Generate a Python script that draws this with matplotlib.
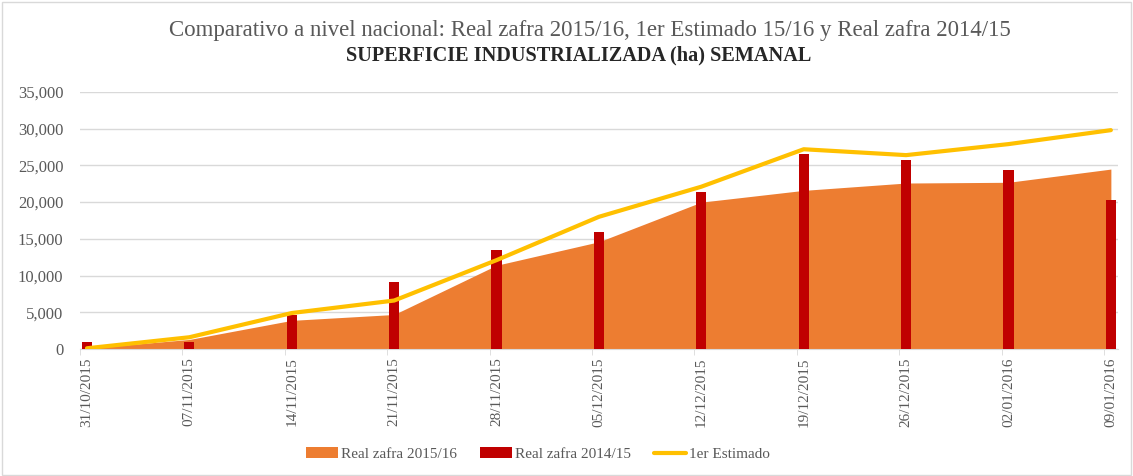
import matplotlib
matplotlib.use('Agg')
import matplotlib.pyplot as plt
import matplotlib.ticker as ticker
from matplotlib.patches import Rectangle
import numpy as np

#%% datos
fechas = ['31/10/2015', '07/11/2015', '14/11/2015', '21/11/2015', '28/11/2015',
          '05/12/2015', '12/12/2015', '19/12/2015', '26/12/2015', '02/01/2016',
          '09/01/2016']
real_1516 = [100, 1300, 3900, 4700, 11400, 14600, 20000, 21600, 22600, 22700, 24500]
real_1415 = [1000, 900, 4600, 9100, 13500, 15900, 21400, 26600, 25700, 24400, 20300]
estimado = [100, 1600, 4900, 6600, 12100, 18000, 22100, 27200, 26400, 27900, 29800]

#%%
plt.rcParams['font.family'] = ['Liberation Serif', 'DejaVu Serif']
gris = '#595959'

fig = plt.figure(figsize=(11.33, 4.76), dpi=100)
ax = fig.add_axes([0.0706, 0.2668, 0.9162, 0.54])

x = np.arange(len(fechas))
area = ax.fill_between(x, real_1516, 0, color='#ED7D31', lw=0, zorder=2)
barras = ax.bar(x, real_1415, width=0.1, color='#C00000', zorder=3)
linea, = ax.plot(x, estimado, color='#FFC000', lw=3, zorder=4,
                 solid_capstyle='round', solid_joinstyle='round')

ax.set_ylim(0, 35000)
ax.set_xlim(-0.068, 10.07)
ax.yaxis.set_major_locator(ticker.MultipleLocator(5000))
ax.yaxis.set_major_formatter(ticker.StrMethodFormatter('{x:,.0f}'))
ax.yaxis.grid(True, color='#D9D9D9', lw=1)
ax.set_axisbelow(True)

ax.set_xticks(x)
ax.set_xticklabels(fechas, rotation=90)
ax.tick_params(axis='x', length=0, pad=6, labelsize=11, labelcolor=gris)
ax.set_xticks(x - 0.068, minor=True)
ax.tick_params(axis='x', which='minor', length=4, color='#D9D9D9')
ax.tick_params(axis='y', length=0, pad=12, labelsize=12, labelcolor=gris)

for s in ['top', 'right', 'left']:
    ax.spines[s].set_visible(False)
ax.spines['bottom'].set_color('#D9D9D9')

fig.text(0.521, 0.936, 'Comparativo a nivel nacional: Real zafra 2015/16, 1er Estimado 15/16 y Real zafra 2014/15',
         ha='center', va='center', fontsize=16.5, color=gris)
fig.text(0.5105, 0.884, 'SUPERFICIE INDUSTRIALIZADA (ha) SEMANAL',
         ha='center', va='center', fontsize=14.6, fontweight='bold', color='#262626')

leg = fig.legend([area, barras, linea], ['Real zafra 2015/16', 'Real zafra 2014/15', '1er Estimado'],
                 loc='center', bbox_to_anchor=(0.475, 0.046), ncol=3, frameon=False,
                 fontsize=11, handlelength=2.1, handletextpad=0.2, columnspacing=1.5)
for t in leg.get_texts():
    t.set_color(gris)

# borde del area del grafico
fig.patches.append(Rectangle((0.002, 0.002), 0.996, 0.994, transform=fig.transFigure,
                             fill=False, edgecolor='#D9D9D9', lw=1))

fig.savefig('out.png', dpi=100)
